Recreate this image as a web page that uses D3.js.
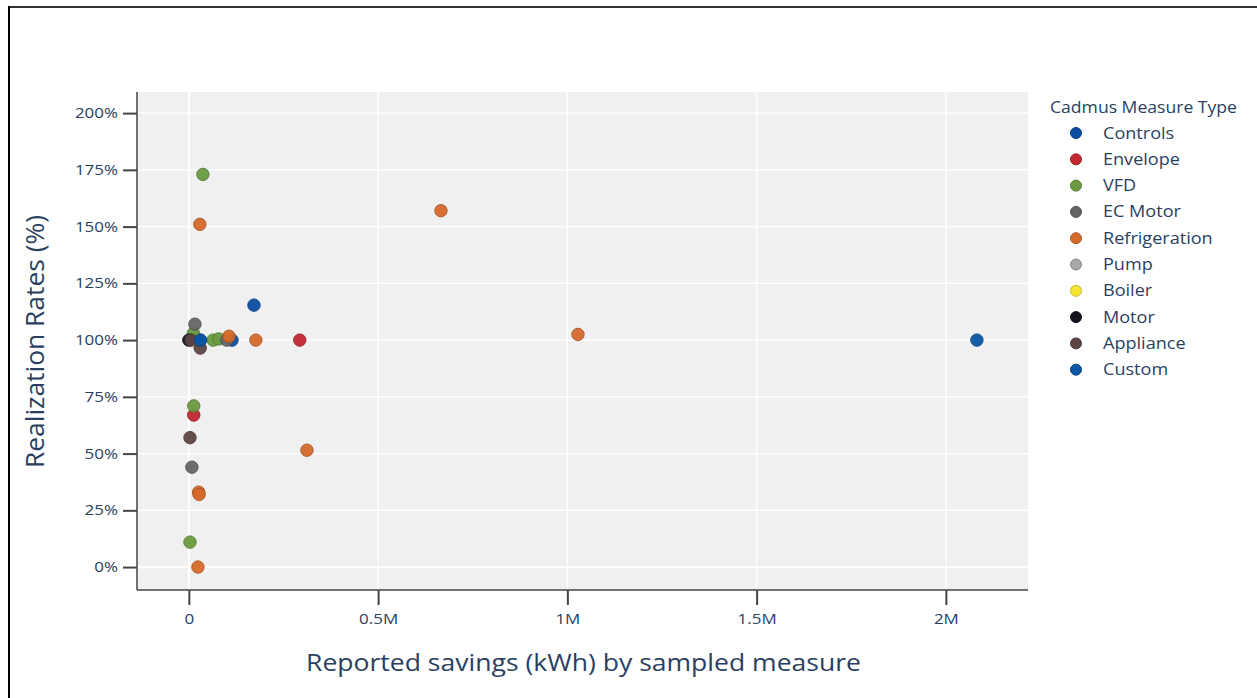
<!DOCTYPE html>
<html><head><meta charset="utf-8">
<script src="https://cdn.jsdelivr.net/npm/d3@7"></script>
<style>body{margin:0;background:#fff;} svg{display:block;font-family:"Open Sans",sans-serif;}</style>
</head><body>
<script>
const categories = ["Controls","Envelope","VFD","EC Motor","Refrigeration","Pump","Boiler","Motor","Appliance","Custom"];
const colors = ["#0c4da2","#c3272f","#6b9b41","#666666","#d56a2b","#a8a8a8","#f6e433","#14141f","#5d4545","#0b56a5"];
// savings in kWh, realization rate in %
const controlsX = [29000,172000,114000];
const controlsY = [100,115.4,100];
const envelopeX = [293000,13000];
const envelopeY = [100,67];
const vfdX = [37000,13000,3000,12000,64000,79000];
const vfdY = [173,71,11,103,100,100.5];
const ecMotorX = [16000,8000,100000];
const ecMotorY = [107,44,100];
const refrigX = [29000,666000,1028000,177000,106000,312000,26000,27000,24000];
const refrigY = [151,157,102.5,100,101.7,51.5,33,32,0];
const pumpX = [], pumpY = [];
const boilerX = [], boilerY = [];
const motorX = [0];
const motorY = [100];
const applianceX = [3000,30000,6000];
const applianceY = [57,96.5,100];
const customX = [2082000,31000];
const customY = [100,100];
const xTicks = [0,500000,1000000,1500000,2000000];
const xTickLabels = ["0","0.5M","1M","1.5M","2M"];
const yTicks = [0,25,50,75,100,125,150,175,200];

const seriesX = [controlsX,envelopeX,vfdX,ecMotorX,refrigX,pumpX,boilerX,motorX,applianceX,customX];
const seriesY = [controlsY,envelopeY,vfdY,ecMotorY,refrigY,pumpY,boilerY,motorY,applianceY,customY];

const W=1257,H=698, SX=1.17, TXT="#2a3f5f";
const svg=d3.select("body").append("svg").attr("width",W).attr("height",H);
// frame
svg.append("line").attr("x1",8).attr("x2",W).attr("y1",7).attr("y2",7).attr("stroke","#333").attr("stroke-width",2);
svg.append("line").attr("x1",9).attr("x2",9).attr("y1",6).attr("y2",H).attr("stroke","#000").attr("stroke-width",2);

const L=137,R=1028,T=92,B=590;
const x=d3.scaleLinear().domain([-137000,2217000]).range([L,R]);
const y=d3.scaleLinear().domain([-10.1,209.3]).range([B,T]);
svg.append("rect").attr("x",L).attr("y",T).attr("width",R-L).attr("height",B-T).attr("fill","#f0f0f0");
const g=svg.append("g");
xTicks.forEach(v=>g.append("line").attr("x1",x(v)).attr("x2",x(v)).attr("y1",T).attr("y2",B).attr("stroke","#fff").attr("stroke-width",v===0?2:1.2));
yTicks.forEach(v=>g.append("line").attr("x1",L).attr("x2",R).attr("y1",y(v)).attr("y2",y(v)).attr("stroke","#fff").attr("stroke-width",v===0?2:1.2));

const xAxis=svg.append("g").attr("transform",`translate(0,${B})`)
  .call(d3.axisBottom(x).tickValues(xTicks).tickFormat((d,i)=>xTickLabels[i]).tickSize(15).tickSizeOuter(0));
const yAxis=svg.append("g").attr("transform",`translate(${L},0)`)
  .call(d3.axisLeft(y).tickValues(yTicks).tickFormat(d=>d+"%").tickSize(14).tickSizeOuter(0));
[xAxis,yAxis].forEach(a=>{
  a.select(".domain").attr("stroke","#444").attr("stroke-width",1.5);
  a.selectAll(".tick line").attr("stroke","#444").attr("stroke-width",2);
  a.selectAll(".tick text").attr("fill",TXT).style("font-size","14.5px").style("font-family","Open Sans");
});
xAxis.selectAll(".tick text").attr("y",0).attr("dy",0).attr("transform",`translate(0,34) scale(${SX},1)`);
yAxis.selectAll(".tick text").attr("x",0).attr("transform",`translate(-19,0) scale(${SX},1)`);
xAxis.select(".domain").attr("d",`M${L},0H${R}`);
yAxis.select(".domain").attr("d",`M0,${T}V${B}`);

svg.append("text").attr("x",(306+861)/2).attr("y",671).attr("text-anchor","middle")
  .attr("fill",TXT).style("font-size","24px")
  .attr("textLength",555).attr("lengthAdjust","spacingAndGlyphs")
  .text("Reported savings (kWh) by sampled measure");
svg.append("text").attr("transform",`translate(44,341.5) rotate(-90)`).attr("text-anchor","middle")
  .attr("fill",TXT).style("font-size","25px")
  .attr("textLength",253).attr("lengthAdjust","spacingAndGlyphs")
  .text("Realization Rates (%)");

const pts=svg.append("g");
categories.forEach((c,i)=>{
  const col=d3.color(colors[i]);
  pts.selectAll(null).data(d3.range(seriesX[i].length)).join("circle")
    .attr("cx",j=>x(seriesX[i][j])).attr("cy",j=>y(seriesY[i][j])).attr("r",6.2)
    .attr("fill",colors[i]).attr("stroke",col.darker(0.6)).attr("stroke-width",1).attr("opacity",0.95);
});

const leg=svg.append("g");
leg.append("text").attr("x",1050).attr("y",113).attr("fill",TXT).style("font-size","15.5px")
  .attr("textLength",187).attr("lengthAdjust","spacingAndGlyphs").text("Cadmus Measure Type");
categories.forEach((c,i)=>{
  const yy=133+i*26.3;
  leg.append("circle").attr("cx",1076).attr("cy",yy).attr("r",5.5).attr("fill",colors[i]).attr("stroke",d3.color(colors[i]).darker(0.6));
  leg.append("text").attr("transform",`translate(1103,${yy+5.5}) scale(1.13,1)`).attr("fill",TXT).style("font-size","16px").text(c);
});
</script>
</body></html>
